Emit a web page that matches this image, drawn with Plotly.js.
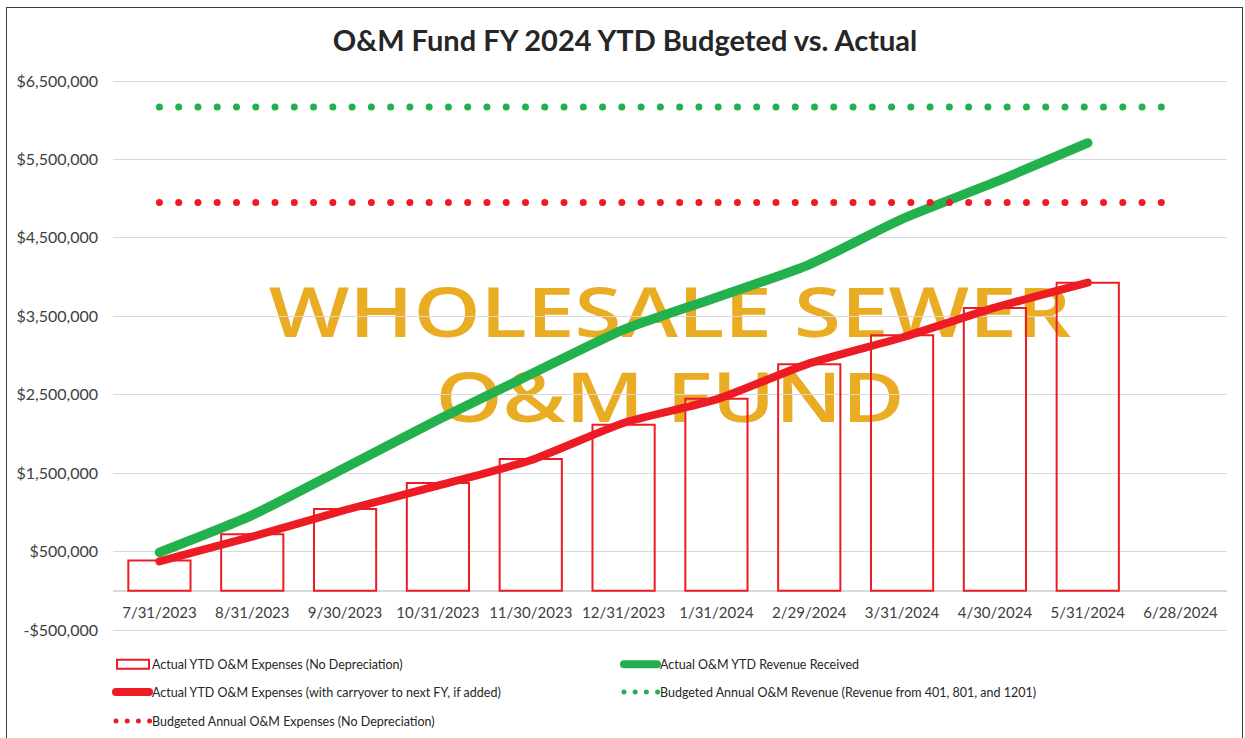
<!DOCTYPE html>
<html>
<head>
<meta charset="utf-8">
<script src="https://cdn.plot.ly/plotly-3.0.1.min.js"></script>
<style>
html,body{margin:0;padding:0;background:#fff;overflow:hidden;}
#chart{width:1245px;height:738px;position:absolute;left:0;top:0;}
#frame{position:absolute;left:6px;top:7px;width:1237px;height:780px;border:1.5px solid #3c3c3c;pointer-events:none;box-sizing:border-box;}
</style>
</head>
<body>
<div id="chart"></div>
<div id="frame"></div>
<script>
const categories = ['7/31/2023','8/31/2023','9/30/2023','10/31/2023','11/30/2023','12/31/2023',
                    '1/31/2024','2/29/2024','3/31/2024','4/30/2024','5/31/2024','6/28/2024'];
const actualExpenses    = [385000, 720000, 1043000, 1374000, 1680000, 2118000, 2450000, 2890000, 3258000, 3606000, 3928000, null];
const carryoverExpenses = [375000, 690000, 1030000, 1340000, 1665000, 2140000, 2440000, 2900000, 3230000, 3610000, 3930000, null];
const revenueReceived   = [490000, 965000, 1570000, 2180000, 2760000, 3330000, 3740000, 4160000, 4740000, 5210000, 5710000, null];
const budgetedRevenue   = [6170000, 6170000, 6170000, 6170000, 6170000, 6170000, 6170000, 6170000, 6170000, 6170000, 6170000, 6170000];
const budgetedExpenses  = [4950000, 4950000, 4950000, 4950000, 4950000, 4950000, 4950000, 4950000, 4950000, 4950000, 4950000, 4950000];

const yTickVals = [-500000, 500000, 1500000, 2500000, 3500000, 4500000, 5500000, 6500000];
const yTickText = ['-$500,000', '$500,000', '$1,500,000', '$2,500,000', '$3,500,000', '$4,500,000', '$5,500,000', '$6,500,000'];

const seriesNames = [
  'Actual YTD O&M Expenses (No Depreciation)',
  'Actual O&M YTD Revenue Received',
  'Actual YTD O&M Expenses (with carryover to next FY, if added)',
  'Budgeted Annual O&M Revenue (Revenue from 401, 801, and 1201)',
  'Budgeted Annual O&M Expenses (No Depreciation)'
];
const chartTitle = 'O&M Fund FY 2024 YTD Budgeted vs. Actual';
const watermarkLines = ['WHOLESALE SEWER', 'O&M FUND'];

const RED = '#ED1C24', GREEN = '#22B14C', GOLD = '#E9AC23';
const FONT = 'Lato, "Open Sans", sans-serif';

const data = [
  {type:'bar', x:categories, y:actualExpenses, name:seriesNames[0], legend:'legend',
   marker:{color:'rgba(0,0,0,0)', line:{color:RED, width:2}}, hoverinfo:'y'},
  {type:'scatter', mode:'lines', x:categories, y:revenueReceived, name:seriesNames[1], legend:'legend2',
   line:{color:GREEN, width:9.5, shape:'spline', smoothing:0.6}},
  {type:'scatter', mode:'lines', x:categories, y:carryoverExpenses, name:seriesNames[2], legend:'legend3',
   line:{color:RED, width:8, shape:'spline', smoothing:0.6}},
  {type:'scatter', mode:'lines', x:categories, y:budgetedRevenue, name:seriesNames[3], legend:'legend4',
   line:{color:GREEN, width:7, dash:'dot'}},
  {type:'scatter', mode:'lines', x:categories, y:budgetedExpenses, name:seriesNames[4], legend:'legend5',
   line:{color:RED, width:7, dash:'dot'}}
];

function legendAt(x, y) {
  return {x:x, y:y, xanchor:'left', yanchor:'middle', orientation:'h',
          bgcolor:'rgba(0,0,0,0)', borderwidth:0,
          font:{family:FONT, size:12.5, color:'#262626'}};
}

function wmShape(cy, text) {
  return {type:'rect', xref:'paper', yref:'paper', x0:0, x1:1, y0:cy-0.04, y1:cy+0.04,
          layer:'below', line:{width:0}, fillcolor:'rgba(0,0,0,0)',
          label:{text:text, textposition:'middle center',
                 font:{family:'"Open Sans", sans-serif', size:68, weight:600, color:GOLD}}};
}

const layout = {
  width:1245, height:738,
  margin:{l:113, r:18, t:79, b:106, autoexpand:false},
  paper_bgcolor:'#fff', plot_bgcolor:'rgba(0,0,0,0)',
  title:{text:chartTitle, x:0.502, xref:'container', xanchor:'center',
         y:1-41/738, yref:'container', yanchor:'middle',
         font:{family:FONT, size:29, color:'#262626', weight:700}},
  xaxis:{type:'category', range:[-0.5, 11.5], anchor:'free', position:0.0745,
         showgrid:false, zeroline:false, showline:false, ticks:'',
         ticklabelstandoff:11,
         tickfont:{family:FONT, size:15, color:'#404040'}},
  yaxis:{range:[-525500, 6525500], tickvals:yTickVals, ticktext:yTickText,
         showgrid:true, gridcolor:'#d9d9d9', gridwidth:1,
         zeroline:true, zerolinecolor:'#d9d9d9', zerolinewidth:1.5,
         showline:false, ticks:'', ticklabelstandoff:14,
         tickfont:{family:FONT, size:16, color:'#404040'}},
  bargap:0.33,
  showlegend:true,
  legend: legendAt(-0.0009, -0.0588),
  legend2: legendAt(0.4551, -0.0588),
  legend3: legendAt(-0.0009, -0.1094),
  legend4: legendAt(0.4551, -0.1094),
  legend5: legendAt(-0.0009, -0.1618),
  shapes:[wmShape(0.5732, watermarkLines[0]), wmShape(0.4195, watermarkLines[1])]
};

Plotly.newPlot('chart', data, layout, {displayModeBar:false, staticPlot:true}).then(function(gd){
  const traces = gd.querySelectorAll('.scatterlayer .trace');
  traces.forEach(function(t, i){
    const p = t.querySelector('path.js-line');
    if (!p) return;
    p.style.strokeLinecap = 'round';
    p.style.strokeLinejoin = 'round';
    if (i >= 2) {
      const len = p.getTotalLength();
      const n = Math.round(len / 19.2);
      p.style.strokeDasharray = '0 ' + (len / n);
    }
  });
  ['legend','legend2','legend3','legend4','legend5'].forEach(function(id, k){
    const g = gd.querySelector('.infolayer .' + id);
    if (!g) return;
    g.querySelectorAll('.legendlines path').forEach(function(p){
      p.style.strokeLinecap = 'round';
      if (k >= 3) {
        p.setAttribute('d', 'M4,0h34');
        p.style.strokeDasharray = '0 11.2';
        p.style.strokeWidth = '5px';
      } else {
        p.setAttribute('d', 'M4,0h33');
        p.style.strokeWidth = '8px';
      }
    });
    if (k === 0) {
      g.querySelectorAll('.legendpoints path').forEach(function(p){
        p.setAttribute('d', 'M-15,4.5H17V-4.5H-15Z');
        p.setAttribute('transform', 'translate(20,0)');
      });
    }
  });
  gd.querySelectorAll('.shape-label text').forEach(function(t){
    const b = t.getBBox();
    const cx = b.x + b.width / 2;
    t.setAttribute('transform', 'translate(' + cx + ',0) scale(1.255,1) translate(' + (-cx) + ',0)');
  });
});
</script>
</body>
</html>
